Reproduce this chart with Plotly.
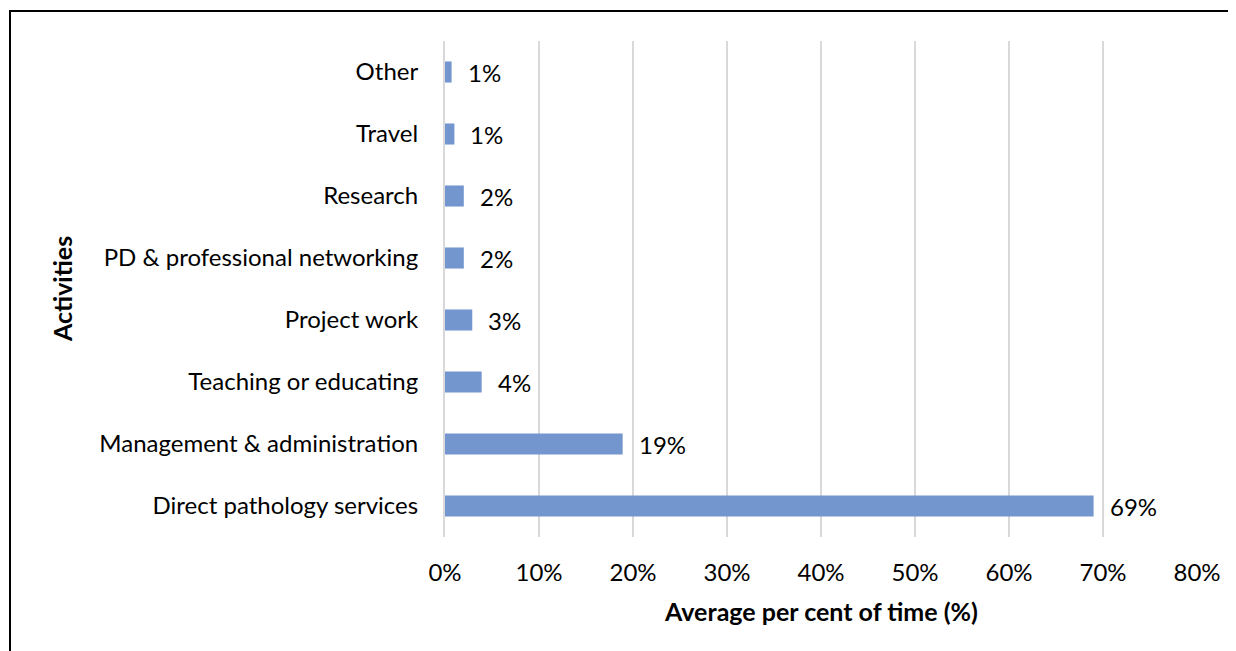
import plotly.graph_objects as go

# 各项活动平均占用时间 (%)
activities = [
    "Direct pathology services",
    "Management & administration",
    "Teaching or educating",
    "Project work",
    "PD & professional networking",
    "Research",
    "Travel",
    "Other",
]
percent_time = [69.0, 18.9, 3.9, 2.9, 2.0, 2.0, 1.0, 0.7]
value_labels = ["69%", "19%", "4%", "3%", "2%", "2%", "1%", "1%"]
x_ticks = [0, 10, 20, 30, 40, 50, 60, 70, 80]
x_tick_labels = [f"{t}%" for t in x_ticks]

FONT = "Lato, Carlito, Calibri, sans-serif"
BAR_COLOR = "#7396CF"
FS = 24
FS_TITLE = 25

# 页面有 8px 边距, 图的尺寸相应缩小
W, H = 1228, 643
L, R, T, B = 437, 39, 33, 114
PW, PH = W - L - R, H - T - B

fig = go.Figure()

fig.add_trace(go.Bar(
    x=percent_time,
    y=activities,
    orientation="h",
    marker=dict(color=BAR_COLOR, line=dict(width=0)),
    width=0.34,
    hoverinfo="skip",
))

# 数据标签
for v, cat, lab in zip(percent_time, activities, value_labels):
    fig.add_annotation(
        x=v, y=cat, text=lab, showarrow=False,
        xanchor="left", xshift=14,
        font=dict(family=FONT, size=FS, color="#000000"),
    )

# 坐标轴标题
fig.add_annotation(
    xref="paper", yref="paper",
    x=(54 - L) / PW, y=0.5, text="<b>Activities</b>", textangle=-90,
    showarrow=False, xanchor="center", yanchor="middle",
    font=dict(family=FONT, size=FS_TITLE, color="#000000"),
)
fig.add_annotation(
    xref="paper", yref="paper",
    x=0.5, y=-(603 - (T + PH)) / PH, text="<b>Average per cent of time (%)</b>",
    showarrow=False, xanchor="center", yanchor="middle",
    font=dict(family=FONT, size=FS_TITLE, color="#000000"),
)

fig.update_layout(
    width=W,
    height=H,
    margin=dict(l=L, r=R, t=T, b=B),
    paper_bgcolor="white",
    plot_bgcolor="white",
    showlegend=False,
    font=dict(family=FONT, size=FS, color="#000000"),
    xaxis=dict(
        range=[0, 80],
        tickvals=x_ticks,
        ticktext=x_tick_labels,
        showgrid=True,
        gridcolor="#D9D9D9",
        gridwidth=2,
        zeroline=False,
        showline=False,
        ticks="",
        ticklabelstandoff=19,
    ),
    yaxis=dict(
        categoryorder="array",
        categoryarray=activities,
        range=[-0.5, len(activities) - 0.5],
        showgrid=False,
        zeroline=False,
        showline=True,
        linecolor="#D9D9D9",
        linewidth=2,
        ticks="",
        ticklabelstandoff=20,
    ),
    shapes=[dict(
        type="rect", xref="paper", yref="paper",
        x0=(2 - L) / PW, x1=(W + 10 - L) / PW,
        y0=-(H + 10 - T - PH) / PH, y1=1 + (T - 3) / PH,
        line=dict(color="#000000", width=2),
        fillcolor="rgba(0,0,0,0)",
        layer="below",
    )],
)

fig.write_html("out.html")
